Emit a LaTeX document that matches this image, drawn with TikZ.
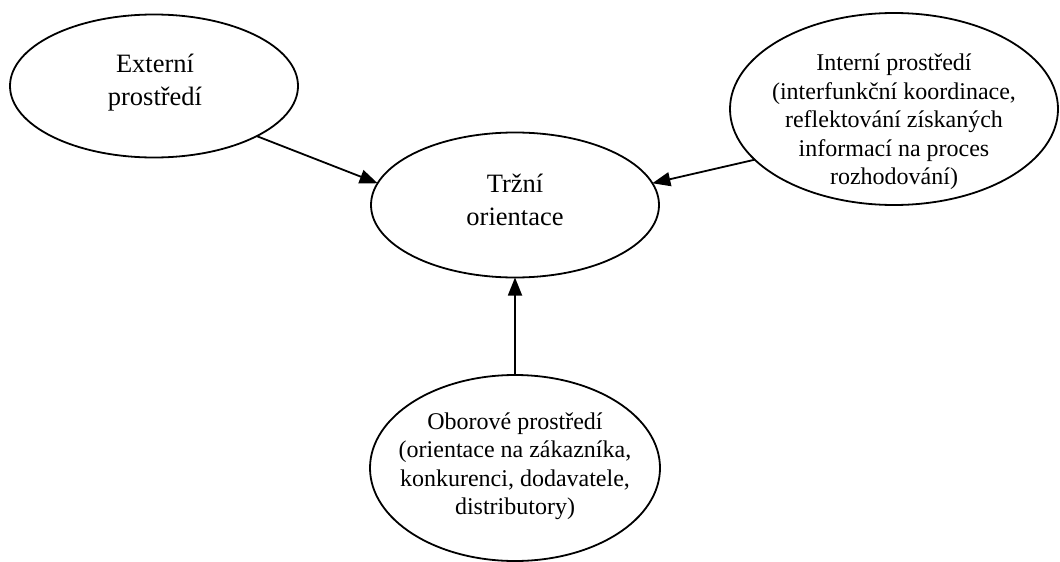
\documentclass[tikz,border=0pt]{standalone}
\usepackage{fontspec}
\setmainfont{Liberation Serif}
\usetikzlibrary{shapes.geometric,arrows.meta}
\begin{document}
\begin{tikzpicture}[x=1pt,y=-1pt,
  ell/.style={draw=black, line width=1.8pt, ellipse, inner sep=0pt, outer sep=0pt},
  bigtxt/.style={align=center, font=\fontsize{26.5}{33}\selectfont, inner sep=0pt},
  smalltxt/.style={align=center, font=\fontsize{24}{28.5}\selectfont, inner sep=0pt},
  arr/.style={line width=1.8pt, -{Triangle[length=18pt,width=14pt]}}]
\useasboundingbox (0,0) rectangle (1060,562);
\node[ell, minimum width=288pt, minimum height=143pt] (ext) at (154,86) {};
\node[bigtxt] (extT) at (155,83) {Externí\\prostředí};
\node[ell, minimum width=288pt, minimum height=145pt] (tr) at (515,205) {};
\node[bigtxt] (trT) at (515,200) {Tržní\\orientace};
\node[ell, minimum width=328pt, minimum height=192pt] (int) at (894,109) {};
\node[smalltxt] (intT) at (894,122) {Interní prostředí\\(interfunkční koordinace,\\reflektování získaných\\informací na proces\\rozhodování)};
\node[ell, minimum width=290pt, minimum height=186pt] (obo) at (515,468) {};
\node[smalltxt] (oboT) at (515,466) {Oborové prostředí\\(orientace na zákazníka,\\konkurenci, dodavatele,\\distributory)};
\draw[arr] (ext.-26) -- (tr.171);
\draw[arr] (int.-160.6) -- (tr.9.3);
\draw[arr] (obo.north) -- (tr.south);
\end{tikzpicture}
\end{document}
